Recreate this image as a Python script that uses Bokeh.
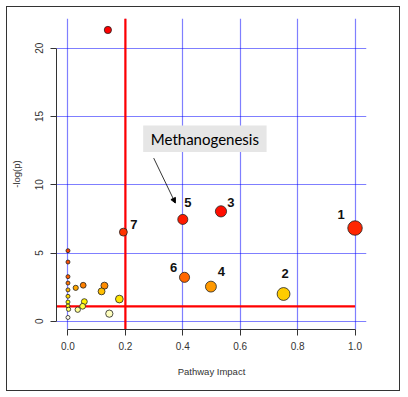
import colorsys
from bokeh.plotting import figure
from bokeh.models import (ColumnDataSource, FixedTicker, BoxAnnotation, Label,
                          Arrow, NormalHead, Span, NumeralTickFormatter)
from bokeh.core.properties import value
from bokeh.embed import file_html
from bokeh.resources import INLINE

# ---------------- data ----------------
# pathway impact (x) and -log(p) (y); first seven are the numbered pathways
impact = [1.000, 0.751, 0.533, 0.498, 0.400, 0.406, 0.193,
          0.139,
          0.000, 0.000, 0.000, 0.000, 0.000, 0.000, 0.000, 0.000, 0.002, 0.000,
          0.027, 0.053, 0.034, 0.057, 0.051, 0.127, 0.117, 0.144, 0.179]
logp = [6.83, 2.00, 8.05, 2.54, 7.46, 3.22, 6.53,
        21.33,
        5.17, 4.34, 3.27, 2.80, 2.30, 1.83, 1.41, 1.12, 0.88, 0.28,
        2.45, 2.64, 0.85, 1.44, 1.10, 2.61, 2.19, 0.56, 1.63]
point_labels = ["1", "2", "3", "4", "5", "6", "7"]

x_ticks = [0.0, 0.2, 0.4, 0.6, 0.8, 1.0]
y_ticks = [0, 5, 10, 15, 20]
impact_threshold = 0.2
logp_threshold = 1.1
annotation_text = "Methanogenesis"

# ---------------- styles derived from data ----------------
def heat_colors(n):
    j = n // 4
    i = n - j
    cols = []
    for k in range(i):
        h = (1 / 6) * k / (i - 1)
        cols.append(colorsys.hsv_to_rgb(h, 1, 1))
    if j > 0:
        s0, s1 = 1 - 1 / (2 * j), 1 / (2 * j)
        for k in range(j):
            s = s0 + (s1 - s0) * (k / (j - 1) if j > 1 else 0)
            cols.append(colorsys.hsv_to_rgb(1 / 6, s, 1))
    return ["#%02x%02x%02x" % (round(r * 255), round(g * 255), round(b * 255)) for r, g, b in cols]

n = len(logp)
palette = heat_colors(n)
order = sorted(range(n), key=lambda k: -logp[k])
colors = [None] * n
for rank, k in enumerate(order):
    colors[k] = palette[rank]
sizes = [4 + 10.5 * (v ** 0.6) for v in impact]

src = ColumnDataSource(dict(x=impact, y=logp, c=colors, s=sizes))

nl = len(point_labels)
label_dx = [-14, 1.5, 10, 10.5, 5, -11, 10.5]
label_dy = [-13.5, -20.5, -8.5, -15, -16.5, -9.5, -7.5]
lab_src = ColumnDataSource(dict(x=impact[:nl], y=logp[:nl], t=point_labels,
                                dx=label_dx, dy=label_dy))

# ---------------- figure ----------------
p = figure(width=394, height=385, x_range=(-0.04, 1.04), y_range=(-0.6, 22.17),
           output_backend="svg", toolbar_location=None,
           min_border_left=49, min_border_right=35, min_border_top=11, min_border_bottom=63)
p.margin = (6, 0, 0, 6)
p.outline_line_color = None
p.background_fill_color = "white"
p.border_fill_color = "white"
p.styles = {"border": "1px solid #333"}

FONT = "Liberation Sans"
for ax in (p.xaxis[0], p.yaxis[0]):
    ax.axis_line_color = "#333333"
    ax.major_tick_line_color = "#333333"
    ax.major_tick_out = 6
    ax.major_tick_in = 0
    ax.minor_tick_line_color = None
    ax.major_label_text_font = FONT
    ax.major_label_text_font_size = "10px"
    ax.major_label_text_color = "#333333"
    ax.axis_label_text_font = FONT
    ax.axis_label_text_font_size = "9.5px"
    ax.axis_label_text_font_style = "normal"
    ax.axis_label_text_color = "#333333"

p.xaxis.ticker = FixedTicker(ticks=x_ticks)
p.xaxis.formatter = NumeralTickFormatter(format="0.0")
p.xaxis.bounds = (x_ticks[0], x_ticks[-1])
p.xaxis.axis_label = "Pathway Impact"
p.xaxis.major_label_standoff = 6
p.xaxis.axis_label_standoff = 13

p.yaxis.ticker = FixedTicker(ticks=y_ticks)
p.yaxis.bounds = (y_ticks[0], y_ticks[-1])
p.yaxis.axis_label = "-log(p)"
p.yaxis.major_label_orientation = "vertical"
p.yaxis.major_label_standoff = 7
p.yaxis.axis_label_standoff = 11

p.xgrid.ticker = FixedTicker(ticks=x_ticks)
p.ygrid.ticker = FixedTicker(ticks=y_ticks)
for g in (p.xgrid[0], p.ygrid[0]):
    g.grid_line_color = "#0000ff"
    g.grid_line_alpha = 0.5
    g.grid_line_width = 1.2

# threshold lines
p.add_layout(Span(location=impact_threshold, dimension="height",
                  line_color="#ff0000", line_width=2.2, level="underlay"))
p.segment(x0=[-0.04], y0=[logp_threshold], x1=[x_ticks[-1]], y1=[logp_threshold],
          line_color="#ff0000", line_width=2.2)

# points
p.scatter("x", "y", source=src, size="s", fill_color="c", line_color="#222222",
          line_width=0.8)

# numbered labels
p.text("x", "y", text="t", source=lab_src, x_offset="dx", y_offset="dy",
       text_align="center", text_baseline="middle",
       text_font=value(FONT), text_font_size="13px", text_font_style="bold",
       text_color="#111111")

# annotation box + arrow
p.add_layout(BoxAnnotation(left=0.262, right=0.692, bottom=12.39, top=14.34,
                           fill_color="#e6e6e6", fill_alpha=1.0, line_color=None,
                           level="annotation"))
p.add_layout(Label(x=0.477, y=13.37, text=annotation_text, text_align="center",
                   text_baseline="middle", text_font="Lato", text_font_size="15px",
                   text_color="#000000", level="overlay"))
p.add_layout(Arrow(end=NormalHead(size=5, fill_color="black", line_color="black"),
                   x_start=0.2986, y_start=11.95, x_end=0.374, y_end=8.66,
                   line_color="black", line_width=0.8))

open("out.html", "w").write(file_html(p, INLINE))
